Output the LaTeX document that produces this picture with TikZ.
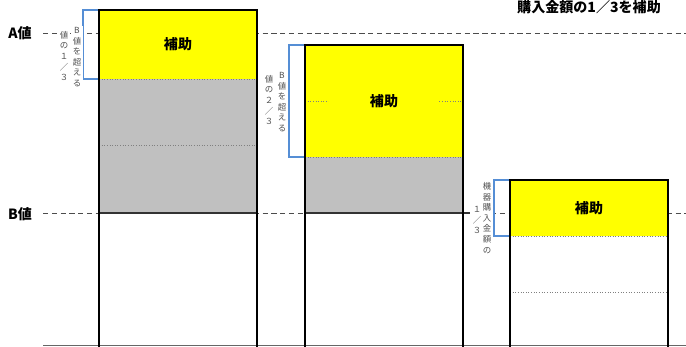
\documentclass[tikz,border=0pt]{standalone}
\usepackage{fontspec}
\setmainfont{Noto Sans CJK JP}
\definecolor{subsidy}{RGB}{255,255,0}
\definecolor{paid}{RGB}{192,192,192}
\definecolor{bracecol}{RGB}{85,142,213}
\definecolor{notecol}{RGB}{80,80,80}
\tikzset{
  level/.style={dashed, dash pattern=on 3pt off 2pt, black!70, line width=0.5pt},
  bar/.style={black, line width=1.1pt},
  part/.style={densely dotted, black!50, line width=0.5pt},
  bracket/.style={bracecol, line width=0.8pt},
  tate/.style={font=\fontsize{4.8}{6}\selectfont, text=notecol, align=center,
    fill=white, inner sep=1pt},
  hojo/.style={font=\fontsize{8}{9}\bfseries\selectfont, fill=subsidy,
    minimum width=2.2cm, inner sep=1pt},
  axislabel/.style={font=\fontsize{8}{9}\bfseries\selectfont}
}
\begin{document}
\begin{tikzpicture}[x=0.02cm, y=-0.02cm]
\useasboundingbox (0,0) rectangle (686,347);
\clip (0,0) rectangle (686,347);

% A and B levels
\draw[level] (43,33) -- (686,33);
\draw[level] (43,213) -- (686,213);
\draw[black!60, line width=0.5pt] (43,345) -- (686,345);
\node[axislabel] (aval) at (20,33) {A値};
\node[axislabel] (bval) at (20,214) {B値};

\node[font=\fontsize{8}{9}\bfseries\selectfont] (topnote) at (589,7)
  {購入金額の1／3を補助};

% bars
\foreach \x/\t/\h/\g/\d [count=\i] in
  {99/10/79/213/145, 305/45/157/213/101, 510/180/236/236/292} {
  \fill[subsidy] (\x,\t) rectangle (\x+158,\h);
  \fill[paid] (\x,\h) rectangle (\x+158,\g);
  \draw[part] (\x,\h) -- +(158,0);
  \draw[part] (\x,\d) -- +(158,0);
  \node[hojo] (hojo\i) at (\x+79,{(\t+\h)/2}) {補助};
  \draw[bracket] (\x,\t) -| (\x-16,\h) -- (\x,\h);
}
\draw[black!80, line width=0.7pt] (99,213) -- (257,213);
\draw[black!80, line width=0.7pt] (305,213) -- (470,213);
\foreach \x/\t in {99/10, 305/45, 510/180}
  \draw[bar] (\x,350) |- (\x+158,\t) -- (\x+158,350);

% notes
\node[tate] (note1r) at (77,57) {B\\値\\を\\超\\え\\る};
\node[tate] (note1l) at (64,56) {値\\の\\１\\／\\３};
\node[tate] (note2r) at (282,102) {B\\値\\を\\超\\え\\る};
\node[tate] (note2l) at (269,100) {値\\の\\２\\／\\３};
\node[tate] (note3r) at (487,218) {機\\器\\購\\入\\金\\額\\の};
\node[tate] (note3l) at (477,220) {１\\／\\３};
\end{tikzpicture}
\end{document}
